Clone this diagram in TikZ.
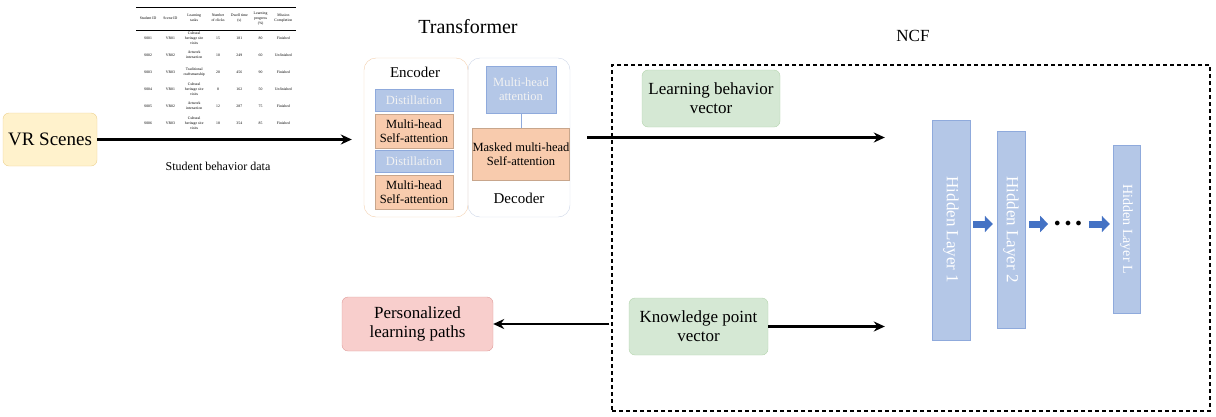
\documentclass[tikz,border=0pt]{standalone}
\usepackage{fontspec}
\setmainfont{Liberation Serif}
\usepackage{array}
\usetikzlibrary{arrows.meta,positioning}
\definecolor{vrfill}{HTML}{FFF2CC}
\definecolor{vrline}{HTML}{EDD08E}
\definecolor{bluefill}{HTML}{B4C7E7}
\definecolor{blueline}{HTML}{8FAADC}
\definecolor{orangefill}{HTML}{F8CBAD}
\definecolor{orangeline}{HTML}{C8A68C}
\definecolor{greenfill}{HTML}{D5E8D4}
\definecolor{greenline}{HTML}{B5D5AE}
\definecolor{redfill}{HTML}{F8CECC}
\definecolor{redline}{HTML}{DE9C9A}
\definecolor{encline}{HTML}{F2CFAE}
\definecolor{decline}{HTML}{CCD5E6}
\definecolor{blockarrow}{HTML}{4472C4}
\newcolumntype{C}[1]{>{\centering\arraybackslash}m{#1}}
\newcommand{\rowstrut}{\rule[-7.5pt]{0pt}{17pt}}
\begin{document}
\begin{tikzpicture}[x=1pt, y=-1pt,
    rbox/.style={draw, rounded corners=6pt, align=center, inner sep=0pt,
      font=\fontsize{17}{19}\selectfont},
    layer/.style={rectangle, fill=bluefill, draw=blueline, inner sep=0pt,
      align=center, text=white, font=\fontsize{17}{19}\selectfont},
    part/.style={rectangle, inner sep=0pt, align=center,
      font=\fontsize{12.5}{14}\selectfont},
    blue part/.style={part, fill=bluefill, draw=blueline, text=white!95!black},
    orange part/.style={part, fill=orangefill, draw=orangeline}]
  \useasboundingbox (0,0) rectangle (1216,416);
  % input, table and transformer
  \node [rbox, fill=vrfill, draw=vrline, minimum width=94pt, minimum height=53pt,
    font=\fontsize{19}{21}\selectfont] (vr) at (50,139.5) {VR Scenes};
  \node [anchor=north, inner sep=0pt, font=\fontsize{3.8}{5}\selectfont]
    (data) at (216,7) {\setlength\tabcolsep{2.4pt}\setlength\arrayrulewidth{0.3pt}%
    \begin{tabular}{@{\rowstrut\hspace{2.4pt}}C{19pt}C{16pt}C{22pt}C{16pt}C{17pt}C{16pt}C{20pt}}
      \hline \noalign{\vskip 2pt}
      Student ID & Scene ID & Learning tasks & Number of clicks & Dwell time (s)
        & Learning progress (\%) & Mission Completion\\ \noalign{\vskip 3pt} \hline
      S001 & VR01 & Cultural heritage site visits & 15 & 181 & 80 & Finished\\
      S002 & VR02 & Artwork interaction & 10 & 249 & 60 & Unfinished\\
      S003 & VR03 & Traditional craftsmanship & 20 & 456 & 90 & Finished\\
      S004 & VR01 & Cultural heritage site visits & 8 & 162 & 50 & Unfinished\\
      S005 & VR02 & Artwork interaction & 12 & 287 & 75 & Finished\\
      S006 & VR03 & Cultural heritage site visits & 18 & 354 & 85 & Finished\\
    \end{tabular}};
  \node [font=\fontsize{12}{14}\selectfont] (datalbl) at (218,166) {Student behavior data};
  \node [font=\fontsize{20}{22}\selectfont] (tf) at (468,27) {Transformer};
  \node [draw=encline, rounded corners=12pt, minimum width=104pt, minimum height=159pt]
    (enc) at (416,137.5) {};
  \node [draw=decline, rounded corners=12pt, minimum width=102pt, minimum height=159pt]
    (dec) at (519,137.5) {};
  \node [font=\fontsize{15}{17}\selectfont] (enclbl) at (415,72) {Encoder};
  \node [font=\fontsize{15}{17}\selectfont] (declbl) at (519,198) {Decoder};
  \node [blue part, minimum width=78pt, minimum height=22pt] (dist1) at (414,100) {Distillation};
  \node [orange part, minimum width=78pt, minimum height=34pt] (mh1) at (414,131)
    {Multi-head\\Self-attention};
  \node [blue part, minimum width=78pt, minimum height=22pt] (dist2) at (414,161) {Distillation};
  \node [orange part, minimum width=78pt, minimum height=34pt] (mh2) at (414,192)
    {Multi-head\\Self-attention};
  \node [blue part, minimum width=70pt, minimum height=47pt] (mha) at (521,89.5)
    {Multi-head\\attention};
  \node [orange part, minimum width=84pt, minimum height=52pt] (mask) at (521,154)
    {Masked multi-head\\Self-attention};
  \draw [blueline] (mha) -- (mask);
  % NCF
  \node [font=\fontsize{17}{19}\selectfont] (ncflbl) at (913,36) {NCF};
  \node [draw, dashed, line width=1.1pt, dash pattern=on 4pt off 3pt, minimum width=598pt,
    minimum height=346pt] (ncf) at (911,238) {};
  \node [rbox, fill=greenfill, draw=greenline, minimum width=138pt, minimum height=57pt]
    (lbv) at (711,98.5) {Learning behavior\\vector};
  \node [rbox, fill=greenfill, draw=greenline, minimum width=139pt, minimum height=57pt]
    (kpv) at (698.5,326.5) {Knowledge point\\vector};
  \node [rbox, fill=redfill, draw=redline, minimum width=151pt, minimum height=54pt]
    (plp) at (417.5,324) {Personalized\\learning paths};
  \node [layer, rotate=-90, minimum width=220pt, minimum height=38pt] (h1) at (951,230)
    {Hidden Layer 1};
  \node [layer, rotate=-90, minimum width=197pt, minimum height=28pt] (h2) at (1011,229.5)
    {Hidden Layer 2};
  \node [layer, rotate=-90, minimum width=168pt, minimum height=27pt,
    font=\fontsize{14}{16}\selectfont] (hl) at (1126.5,229) {Hidden Layer L};
  \node [font=\fontsize{13}{13}\selectfont, inner sep=1pt] (dots) at (1068,224)
    {$\bullet\,\bullet\,\bullet$};
  \begin{scope}[blockarrow, line width=7pt, -{Triangle[length=8pt, width=16pt]}]
    \draw [shorten <=3pt, shorten >=4pt] (h1.north |- dots) -- (h2.south |- dots);
    \draw [shorten <=4pt, shorten >=5pt] (h2.north |- dots) -- (dots.west);
    \draw [shorten <=6pt, shorten >=3pt] (dots.east) -- (hl.south |- dots);
  \end{scope}
  % data flow
  \begin{scope}[line width=2.4pt, -{Stealth[length=11pt, width=10pt]}]
    \draw [shorten >=12pt] (vr.east) -- (enc.west |- vr.east);
    \draw [shorten <=17pt, shorten >=47pt] (dec.east) -- (dec.east -| h1.south);
    \draw [shorten >=47pt] (kpv.east) -- (kpv.east -| h1.south);
    \draw [shorten <=2pt] (ncf.west |- plp.east) -- (plp.east);
  \end{scope}
\end{tikzpicture}
\end{document}
